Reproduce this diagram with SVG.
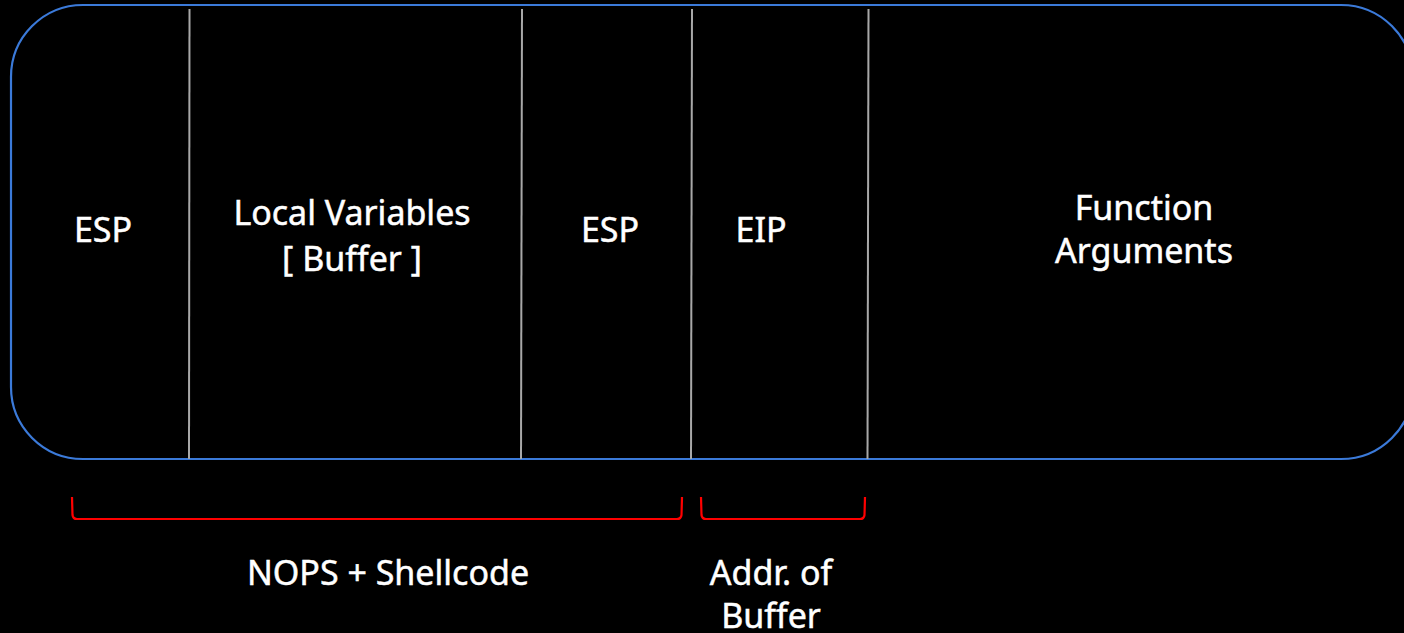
<svg xmlns="http://www.w3.org/2000/svg" width="1404" height="633" viewBox="0 0 1404 633">
  <style>
    .frame { fill: none; stroke: #3b7ad9; stroke-width: 2.2; }
    .divider { stroke: #a8a8a8; stroke-width: 2; }
    .brace { fill: none; stroke: #ff0000; stroke-width: 2.2; stroke-linejoin: round; }
    .label { fill: #ffffff; stroke: #ffffff; stroke-width: 0.5; font-family: "Noto Sans", "Open Sans", sans-serif; font-size: 34px; text-anchor: middle; }
  </style>
  <rect width="1404" height="633" fill="#000000"/>

  <!-- stack frame outline -->
  <g id="stack-frame">
    <rect class="frame" x="11" y="5" width="1402" height="454" rx="72" ry="72"/>
  </g>

  <!-- slot separators -->
  <g id="connectors">
    <line class="divider" x1="189.5" y1="9" x2="189" y2="459"/>
    <line class="divider" x1="522" y1="9" x2="521" y2="459"/>
    <line class="divider" x1="692" y1="9" x2="691" y2="459"/>
    <line class="divider" x1="868.5" y1="9" x2="867.5" y2="459"/>
  </g>

  <g id="slot-esp-low">
    <text class="label" x="103" y="242">ESP</text>
  </g>
  <g id="slot-locals">
    <text class="label" x="352" y="225">Local Variables</text>
    <text class="label" x="352" y="271">[ Buffer ]</text>
  </g>
  <g id="slot-esp-saved">
    <text class="label" x="610" y="242">ESP</text>
  </g>
  <g id="slot-eip">
    <text class="label" x="761" y="242">EIP</text>
  </g>
  <g id="slot-args">
    <text class="label" x="1144" y="220">Function</text>
    <text class="label" x="1144" y="263">Arguments</text>
  </g>

  <!-- payload braces -->
  <g id="brace-payload">
    <path class="brace" d="M72 497 L72.5 515 Q73 519 77 519 L677 519 Q681 519 681.5 515 L682 497"/>
    <text class="label" x="388" y="585">NOPS + Shellcode</text>
  </g>
  <g id="brace-return">
    <path class="brace" d="M701 497 L701.5 515 Q702 519 706 519 L860 519 Q864 519 864.5 515 L865 497"/>
    <text class="label" x="771" y="585">Addr. of</text>
    <text class="label" x="771" y="628">Buffer</text>
  </g>
</svg>
